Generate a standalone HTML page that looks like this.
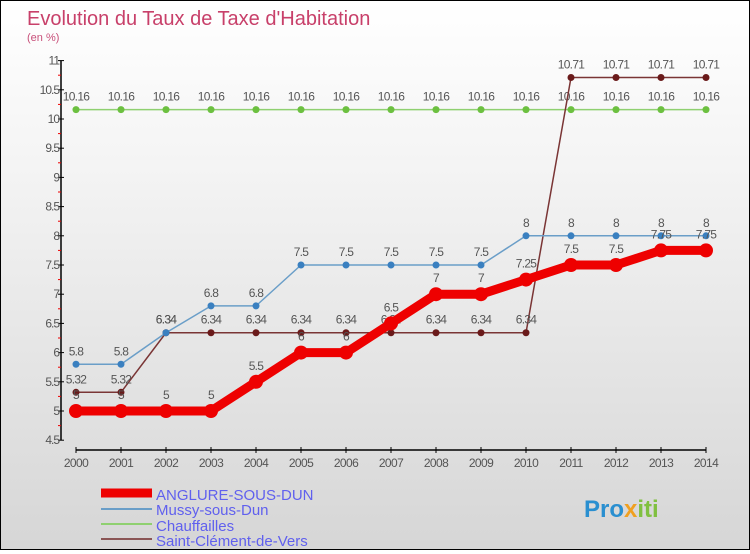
<!DOCTYPE html>
<html><head><meta charset="utf-8"><style>
body{margin:0;width:750px;height:550px;overflow:hidden;font-family:"Liberation Sans",sans-serif}
#wrap{position:relative;width:748px;height:548px;border:1px solid #000;background:linear-gradient(#fff 0%,#f4f4f4 30%,#d6d6d6 100%)}
</style></head><body>
<div id="wrap">
<svg id="c" width="748" height="548">
<text x="26" y="24" font-size="20" fill="#c8406a">Evolution du Taux de Taxe d'Habitation</text>
<text x="26" y="40" font-size="11" fill="#c8507a">(en %)</text>
<g id="axes"></g><g id="series"></g>
<g>
<line x1="100" y1="492" x2="151" y2="492" stroke="#e00" stroke-width="9"/>
<text x="155" y="499" font-size="15" fill="#6060ee">ANGLURE-SOUS-DUN</text>
<line x1="100" y1="508" x2="151" y2="508" stroke="#6a9ec8" stroke-width="2"/>
<text x="155" y="514" font-size="15" fill="#6060ee">Mussy-sous-Dun</text>
<line x1="100" y1="523" x2="151" y2="523" stroke="#8fd070" stroke-width="2"/>
<text x="155" y="530" font-size="15" fill="#6060ee">Chauffailles</text>
<line x1="100" y1="538" x2="151" y2="538" stroke="#8a5555" stroke-width="2"/>
<text x="155" y="545" font-size="15" fill="#6060ee">Saint-Clément-de-Vers</text>
</g>
<text x="583" y="516" font-size="24" font-weight="bold"><tspan fill="#2a8fd0">Pro</tspan><tspan fill="#f0a020">x</tspan><tspan fill="#80c040">iti</tspan></text>
</svg></div>
<script>
const years=[2000,2001,2002,2003,2004,2005,2006,2007,2008,2009,2010,2011,2012,2013,2014];
const anglure=[5,5,5,5,5.5,6,6,6.5,7,7,7.25,7.5,7.5,7.75,7.75];
const mussy=[5.8,5.8,6.34,6.8,6.8,7.5,7.5,7.5,7.5,7.5,8,8,8,8,8];
const chauffailles=[10.16,10.16,10.16,10.16,10.16,10.16,10.16,10.16,10.16,10.16,10.16,10.16,10.16,10.16,10.16];
const saintClement=[5.32,5.32,6.34,6.34,6.34,6.34,6.34,6.34,6.34,6.34,6.34,10.71,10.71,10.71,10.71];
const yTicks=[4.5,5,5.5,6,6.5,7,7.5,8,8.5,9,9.5,10,10.5,11];
const NS="http://www.w3.org/2000/svg";
const X=y=>75+(y-2000)*45;
const Y=v=>410-(v-5)*58.4;
function mk(t,a,p){const e=document.createElementNS(NS,t);for(const k in a)e.setAttribute(k,a[k]);p.appendChild(e);return e;}
const ax=document.getElementById('axes');
let l=mk('line',{x1:60,y1:Y(11),x2:60,y2:Y(4.5),stroke:'#000','stroke-width':1.5},ax);


l=mk('line',{x1:75,y1:449,x2:705,y2:449,stroke:'#000','stroke-width':1.5},ax);


yTicks.forEach(v=>{
 mk('line',{x1:57,y1:Y(v),x2:63,y2:Y(v),stroke:'#000'},ax);
 if(v<11) mk('line',{x1:57,y1:Y(v+0.25),x2:60,y2:Y(v+0.25),stroke:'#e00'},ax);
 const t=mk('text',{x:58,y:Y(v)+4,'font-size':12,fill:'#555','text-anchor':'end','letter-spacing':'-1'},ax);
 t.textContent=v;
 
 
});
years.forEach(y=>{
 mk('line',{x1:X(y),y1:446,x2:X(y),y2:452,stroke:'#000'},ax);
 const t=mk('text',{x:X(y),y:466,'font-size':12,fill:'#555','text-anchor':'middle','letter-spacing':'-0.6'},ax);
 t.textContent=y;
 
 
});
const sg=document.getElementById('series');
function series(name,vals,color,w,r,ptColor,labelDy){
 const g=mk('g',{},sg);
 
 
 const pl=mk('polyline',{points:vals.map((v,i)=>X(years[i])+','+Y(v)).join(' '),fill:'none',stroke:color,'stroke-width':w,'stroke-linejoin':'round'},g);
 
 
 vals.forEach((v,i)=>{
  const c=mk('circle',{cx:X(years[i]),cy:Y(v),r:r,fill:ptColor},g);
  
  
  const t=mk('text',{x:X(years[i]),y:Y(v)-labelDy,'font-size':12,fill:'#555','text-anchor':'middle','letter-spacing':'-0.7'},g);
  t.textContent=v;
  
  
 });
}
series('chauffailles',chauffailles,'#8fd070',1.5,3.5,'#6cc040',9);
series('saint-clement',saintClement,'#7a3535',1.5,3.5,'#6a1a1a',9);
series('mussy',mussy,'#6a9ec8',1.5,3.5,'#3a80c0',9);
series('anglure',anglure,'#ee0000',9,7,'#ee0000',12);
</script>
</body></html>
